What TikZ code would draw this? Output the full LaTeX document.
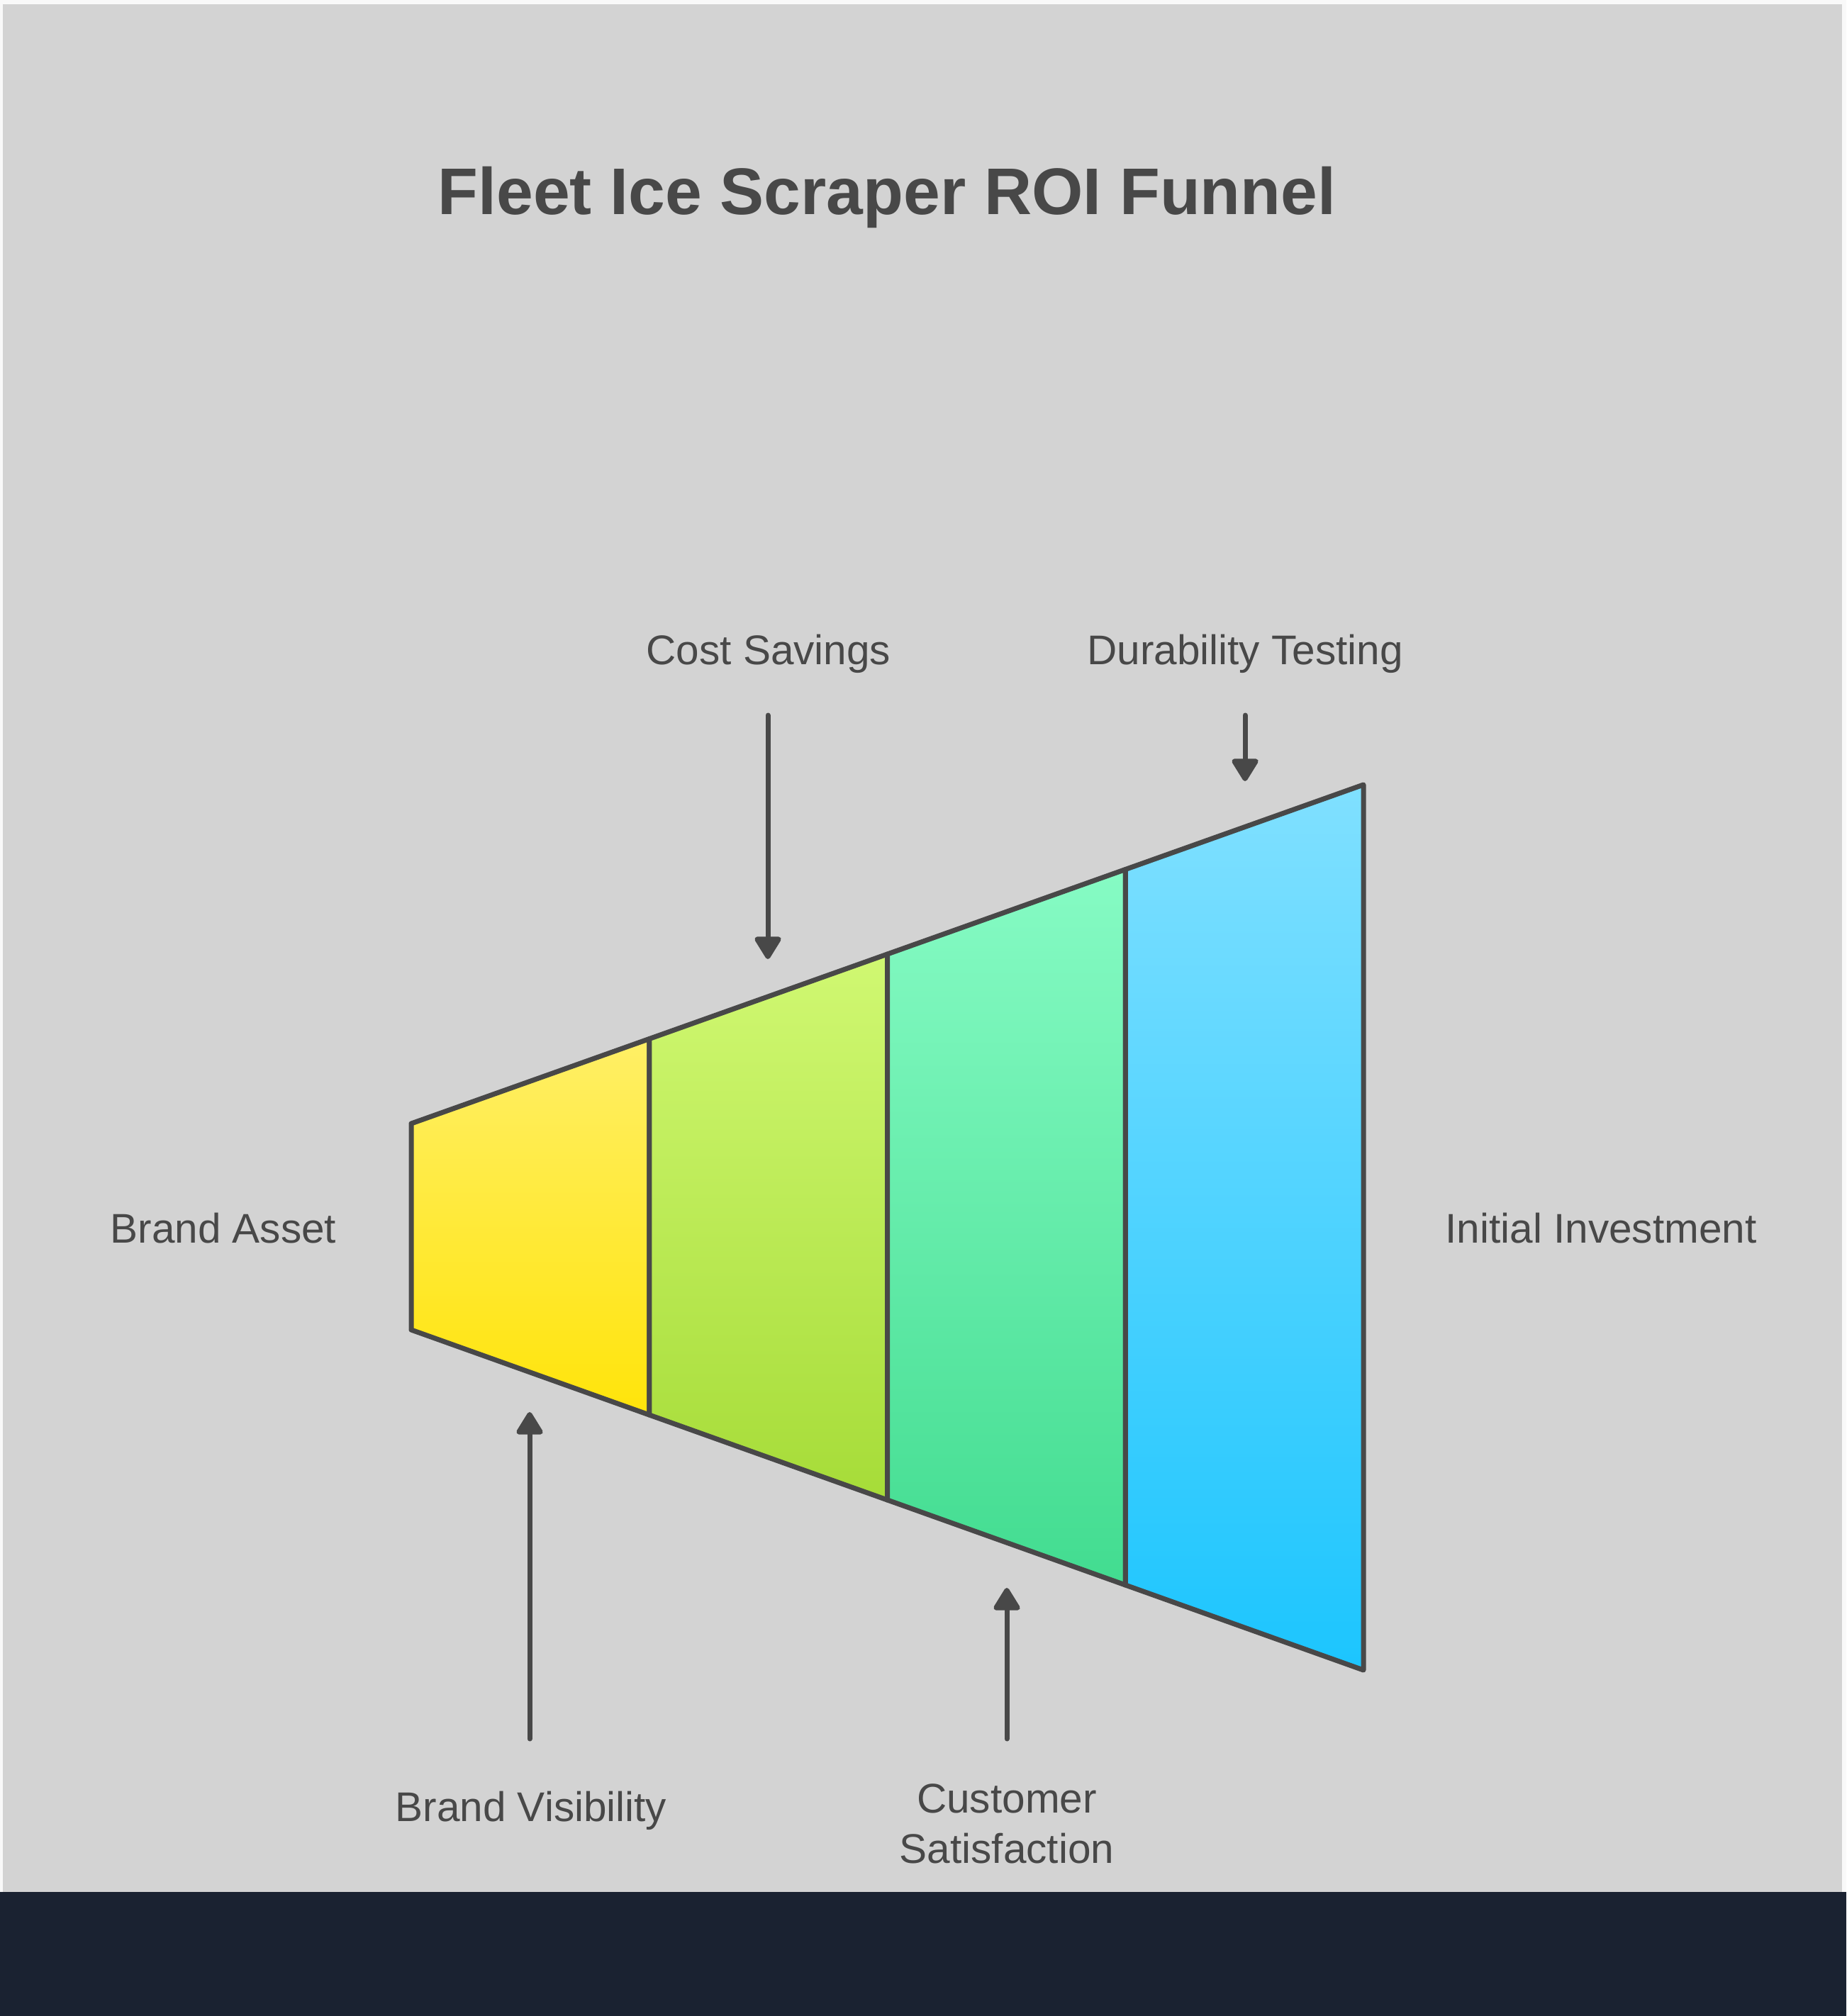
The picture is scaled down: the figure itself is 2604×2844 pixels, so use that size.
\documentclass[tikz,border=0pt]{standalone}
\usepackage{fontspec}
\setmainfont{Liberation Sans}
\usetikzlibrary{arrows.meta}
\definecolor{outerbg}{HTML}{F9F9F9}
\definecolor{panel}{HTML}{D3D3D3}
\definecolor{band}{HTML}{1A2231}
\definecolor{ink}{HTML}{484848}
\definecolor{yT}{HTML}{FFEF66}
\definecolor{yB}{HTML}{FFE40A}
\definecolor{gT}{HTML}{D0F872}
\definecolor{gB}{HTML}{A6DC38}
\definecolor{mT}{HTML}{86FBC4}
\definecolor{mB}{HTML}{42DC90}
\definecolor{bT}{HTML}{80E0FF}
\definecolor{bB}{HTML}{1CC5FE}
\tikzset{
  seg/.style={draw=ink, line width=7pt, line join=round},
  lbl/.style={text=ink, inner sep=0pt, anchor=base, font=\fontsize{58.5}{71}\selectfont},
  ttl/.style={text=ink, inner sep=0pt, anchor=base, font=\fontsize{93}{110}\selectfont\bfseries},
  arr/.style={draw=ink, line width=7pt, line cap=round, -{Triangle[length=35pt,width=41pt,round]}}
}
\begin{document}
\begin{tikzpicture}[x=1pt,y=-1pt]
\useasboundingbox (0,0) rectangle (2604,2844);
\fill[outerbg] (0,0) rectangle (2604,2844);
\fill[panel] (4,6) rectangle (2598,2669);
\fill[band] (0,2669) rectangle (2604,2844);

\node[ttl] (title) at (1251,303) {Fleet Ice Scraper ROI Funnel};

% funnel segments
\path[seg, top color=yT, bottom color=yB] (580,1585) -- (915.75,1465.5) -- (915.75,1996) -- (580,1876) -- cycle;
\path[seg, top color=gT, bottom color=gB] (915.75,1465.5) -- (1251.5,1346) -- (1251.5,2116) -- (915.75,1996) -- cycle;
\path[seg, top color=mT, bottom color=mB] (1251.5,1346) -- (1587.25,1226.5) -- (1587.25,2236) -- (1251.5,2116) -- cycle;
\path[seg, top color=bT, bottom color=bB] (1587.25,1226.5) -- (1923,1107) -- (1923,2356) -- (1587.25,2236) -- cycle;

% labels
\node[lbl] (cost) at (1084,937) {Cost Savings};
\node[lbl] (dur) at (1756,937) {Durability Testing};
\node[lbl] (asset) at (315,1753) {Brand Asset};
\node[lbl] (invest) at (2258,1753) {Initial Investment};
\node[lbl] (vis) at (749,2569) {Brand Visibility};
\node[lbl, align=center] (cust) at (1420,2628) {Customer\\Satisfaction};

% arrows
\coordinate (costA) at (1083,1009);
\coordinate (costB) at (1083,1353);
\coordinate (durA) at (1756,1009);
\coordinate (durB) at (1756,1102);
\coordinate (visA) at (747,2453);
\coordinate (visB) at (747,1992);
\coordinate (custA) at (1420,2453);
\coordinate (custB) at (1420,2240);
\draw[arr] (costA) -- (costB);
\draw[arr] (durA) -- (durB);
\draw[arr] (visA) -- (visB);
\draw[arr] (custA) -- (custB);
\end{tikzpicture}
\end{document}
